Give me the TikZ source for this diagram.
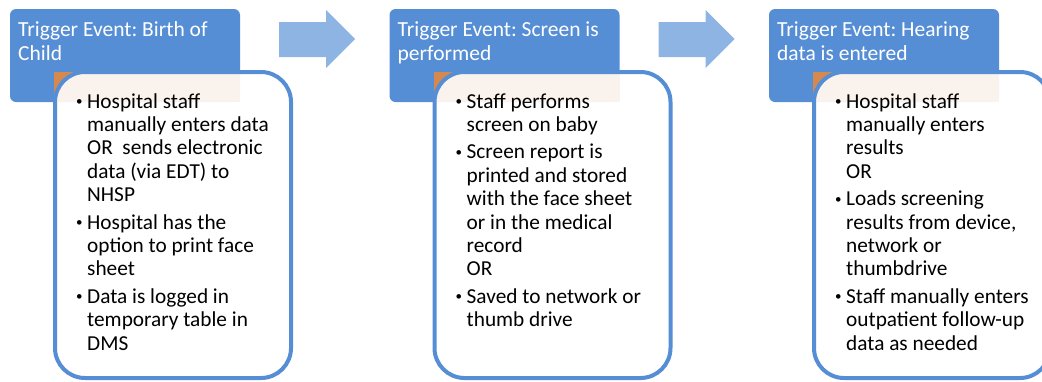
\documentclass[tikz,border=0pt]{standalone}
\usepackage{fontspec}
\setmainfont{Carlito}
\definecolor{hdrblue}{HTML}{558ED5}
\definecolor{arrblue}{HTML}{8EB4E3}
\definecolor{tabor}{HTML}{D6894F}
\frenchspacing
\begin{document}
\begin{tikzpicture}[x=1pt,y=-1pt,
  header/.style={rectangle, rounded corners=6pt, fill=hdrblue, draw=none, minimum width=230pt, minimum height=93pt, inner sep=0pt},
  tab/.style={rectangle, fill=tabor, draw=none, minimum width=186pt, minimum height=30pt, inner sep=0pt},
  bodybox/.style={rectangle, rounded corners=30pt, draw=hdrblue, line width=4pt, fill=white, fill opacity=0.9, minimum width=236pt, minimum height=306pt, inner sep=0pt},
  htext/.style={anchor=base west, inner sep=0pt, text=white},
  btext/.style={anchor=base west, inner sep=0pt, text=black},
  flow/.style={fill=arrblue, draw=none}
]
\useasboundingbox (0,0) rectangle (1042,381);
\clip (0,0) rectangle (1042,381);
\newcommand{\bl}{\makebox[10pt][l]{\hspace*{-1pt}\fontsize{13}{13}\selectfont\raisebox{2.5pt}{\textbullet}}}
\newcommand{\ind}{\hspace*{10pt}}
\newcommand{\btxt}[1]{\parbox[t]{240pt}{\fontsize{21.3}{23.4}\selectfont\frenchspacing\raggedright #1}}
\newcommand{\htxt}[1]{\parbox[t]{225pt}{\fontsize{21.5}{24}\selectfont\frenchspacing\raggedright #1}}

% ---------- panel 1
\node[header] (h1) at (125,55.5) {};
\node[htext] (ht1) at (18,36) {\htxt{Trigger Event: Birth of\\Child}};
\node[tab] (o1) at (147,87) {};
\node[bodybox] (w1) at (173,225) {};
\node[btext] (t1) at (77,108) {\btxt{%
\bl Hospital staff\\
\ind manually enters data\\
\ind OR\ \ sends electronic\\
\ind data (via EDT) to\\
\ind NHSP\\[4pt]
\bl Hospital has the\\
\ind option to print face\\
\ind sheet\\[4pt]
\bl Data is logged in\\
\ind temporary table in\\
\ind DMS}};

% ---------- arrow 1
\fill[flow] (279,22) -- (326,22) -- (326,10) -- (355,39) -- (326,68) -- (326,57) -- (279,57) -- cycle;

% ---------- panel 2
\node[header] (h2) at (504.5,55.5) {};
\node[htext] (ht2) at (397.5,36) {\htxt{Trigger Event: Screen is\\performed}};
\node[tab] (o2) at (526.5,87) {};
\node[bodybox] (w2) at (552.5,225) {};
\node[btext] (t2) at (456.5,108) {\btxt{%
\bl Staff performs\\
\ind screen on baby\\[4pt]
\bl Screen report is\\
\ind printed and stored\\
\ind with the face sheet\\
\ind or in the medical\\
\ind record\\
\ind OR\\[4pt]
\bl Saved to network or\\
\ind thumb drive}};

% ---------- arrow 2
\fill[flow] (658.5,22) -- (705.5,22) -- (705.5,10) -- (734.5,39) -- (705.5,68) -- (705.5,57) -- (658.5,57) -- cycle;

% ---------- panel 3
\node[header] (h3) at (884,55.5) {};
\node[htext] (ht3) at (777,36) {\htxt{Trigger Event: Hearing\\data is entered}};
\node[tab] (o3) at (906,87) {};
\node[bodybox] (w3) at (932,225) {};
\node[btext] (t3) at (836,108) {\btxt{%
\bl Hospital staff\\
\ind manually enters\\
\ind results\\
\ind OR\\[4pt]
\bl Loads screening\\
\ind results from device,\\
\ind network or\\
\ind thumbdrive\\[4pt]
\bl Staff manually enters\\
\ind outpatient follow-up\\
\ind data as needed}};
\end{tikzpicture}
\end{document}
